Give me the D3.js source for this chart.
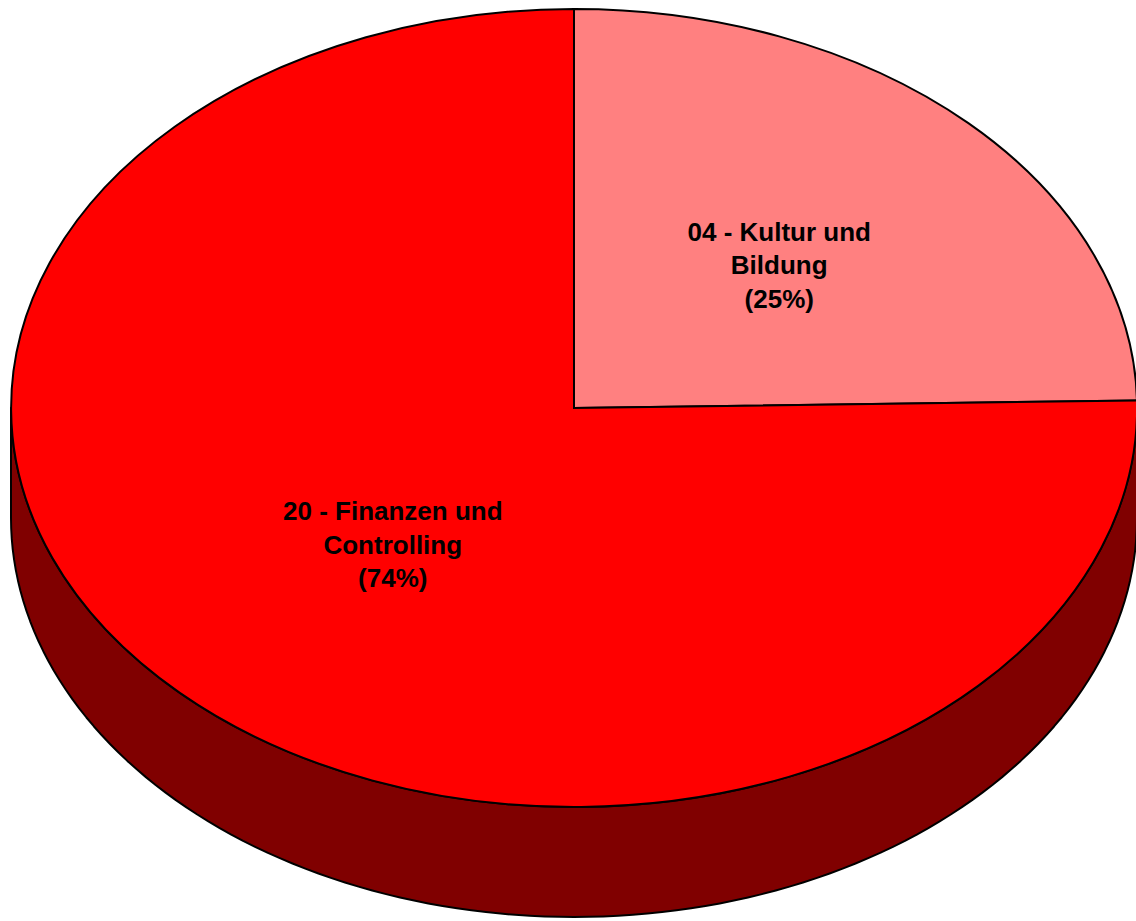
<!DOCTYPE html>
<html>
<head>
<meta charset="utf-8">
<script src="https://cdn.jsdelivr.net/npm/d3@7"></script>
<style>
  body { margin: 0; background: #fff; }
  svg { display: block; }
  .slice text { font-family: "Liberation Sans", Arial, sans-serif; font-weight: bold; font-size: 26px; }
</style>
</head>
<body>
<div id="chart"></div>
<script>
  'use strict';

  var categories = ["04 - Kultur und Bildung", "20 - Finanzen und Controlling"];
  var labelLines = [["04 - Kultur und", "Bildung"], ["20 - Finanzen und", "Controlling"]];
  var values = [24.7, 75.3];
  var percentLabels = ["25%", "74%"];
  var topColors = ["#ff8080", "#ff0000"];
  var sideColor = "#800000";

  var w = 1136;
  var h = 921;
  var cx = 574;
  var cy = 408;
  var rx = 563;
  var ry = 399;
  var depth = 110;
  // labels sit on a slightly shifted ellipse
  var labelCx = 586;
  var labelCy = 405;
  var labelRadius = 0.49;
  var lineHeight = 33.5;

  var svg = d3.select("#chart").append("svg")
    .attr("width", w)
    .attr("height", h);

  var pie = d3.pie().sort(null).value(function (d) { return d; });
  var slices = pie(values);

  // unit circle arcs, squashed into the ellipse by the transform
  var arc = d3.arc().innerRadius(0).outerRadius(1);
  var labelArc = d3.arc().innerRadius(labelRadius).outerRadius(labelRadius);

  function px(a) { return cx + rx * Math.sin(a); }
  function py(a) { return cy - ry * Math.cos(a); }

  var line = d3.line();

  function sidePath(d) {
    var a0 = Math.max(d.startAngle, Math.PI / 2);
    var a1 = Math.min(d.endAngle, 3 * Math.PI / 2);
    if (a1 <= a0) return null;
    var n = 120, pts = [], i, a;
    for (i = 0; i <= n; i++) {
      a = a0 + (a1 - a0) * i / n;
      pts.push([px(a), py(a)]);
    }
    for (i = n; i >= 0; i--) {
      a = a0 + (a1 - a0) * i / n;
      pts.push([px(a), py(a) + depth]);
    }
    return line(pts) + "Z";
  }

  svg.append("g")
    .attr("class", "sides")
    .selectAll("path")
    .data(slices.filter(function (d) { return sidePath(d) !== null; }))
    .enter()
    .append("path")
    .attr("d", sidePath)
    .attr("fill", sideColor)
    .attr("stroke", "#000")
    .attr("stroke-width", 2)
    .attr("stroke-linejoin", "round");

  var slice = svg.selectAll("g.slice")
    .data(slices)
    .enter()
    .append("g")
    .attr("class", "slice");

  slice.append("path")
    .attr("d", arc)
    .attr("transform", "translate(" + cx + "," + cy + ") scale(" + rx + "," + ry + ")")
    .attr("vector-effect", "non-scaling-stroke")
    .attr("fill", function (d, i) { return topColors[i]; })
    .attr("stroke", "#000")
    .attr("stroke-width", 2)
    .attr("stroke-linejoin", "miter");

  slice.append("text")
    .attr("text-anchor", "middle")
    .attr("fill", "#000")
    .attr("transform", function (d) {
      var c = labelArc.centroid(d);
      return "translate(" + (labelCx + c[0] * rx) + "," + (labelCy + c[1] * ry) + ")";
    })
    .each(function (d, i) {
      var t = d3.select(this);
      var lines = labelLines[i].concat(["(" + percentLabels[i] + ")"]);
      lines.forEach(function (s, j) {
        t.append("tspan")
          .attr("x", 0)
          .attr("y", (j - (lines.length - 1) / 2) * lineHeight + 9)
          .text(s);
      });
    })
    .append("title")
    .text(function (d, i) { return categories[i]; });
</script>
</body>
</html>
